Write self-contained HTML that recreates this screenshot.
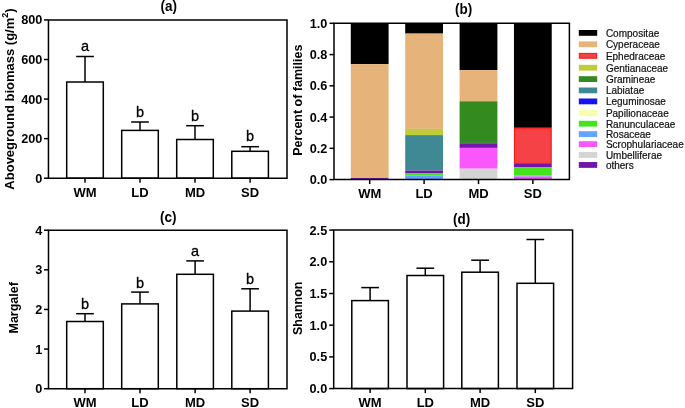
<!DOCTYPE html><html><head><meta charset="utf-8"><style>html,body{margin:0;padding:0;background:#fff;overflow:hidden}svg{display:block;will-change:transform}text{font-family:"Liberation Sans",sans-serif}</style></head><body>
<svg width="685" height="408" viewBox="0 0 685 408">
<rect width="685" height="408" fill="#fff"/>
<line x1="43.95" y1="178.20" x2="48.45" y2="178.20" stroke="#000" stroke-width="1.5"/>
<text x="42.30" y="182.70" font-size="12.7" font-weight="bold" text-anchor="end" fill="#000" >0</text>
<line x1="43.95" y1="138.64" x2="48.45" y2="138.64" stroke="#000" stroke-width="1.5"/>
<text x="42.30" y="143.14" font-size="12.7" font-weight="bold" text-anchor="end" fill="#000" >200</text>
<line x1="43.95" y1="99.07" x2="48.45" y2="99.07" stroke="#000" stroke-width="1.5"/>
<text x="42.30" y="103.57" font-size="12.7" font-weight="bold" text-anchor="end" fill="#000" >400</text>
<line x1="43.95" y1="59.51" x2="48.45" y2="59.51" stroke="#000" stroke-width="1.5"/>
<text x="42.30" y="64.01" font-size="12.7" font-weight="bold" text-anchor="end" fill="#000" >600</text>
<line x1="43.95" y1="19.95" x2="48.45" y2="19.95" stroke="#000" stroke-width="1.5"/>
<text x="42.30" y="24.45" font-size="12.7" font-weight="bold" text-anchor="end" fill="#000" >800</text>
<line x1="85.00" y1="82.00" x2="85.00" y2="56.50" stroke="#000" stroke-width="1.5"/>
<line x1="76.15" y1="56.50" x2="93.85" y2="56.50" stroke="#000" stroke-width="1.5"/>
<rect x="66.70" y="82.00" width="36.60" height="96.20" fill="#fff" stroke="#000" stroke-width="1.5"/>
<text x="85.00" y="50.60" font-size="14.5" font-weight="normal" text-anchor="middle" fill="#000" stroke="#000" stroke-width="0.3">a</text>
<line x1="140.00" y1="130.40" x2="140.00" y2="122.00" stroke="#000" stroke-width="1.5"/>
<line x1="131.15" y1="122.00" x2="148.85" y2="122.00" stroke="#000" stroke-width="1.5"/>
<rect x="121.70" y="130.40" width="36.60" height="47.80" fill="#fff" stroke="#000" stroke-width="1.5"/>
<text x="140.00" y="116.50" font-size="14.5" font-weight="normal" text-anchor="middle" fill="#000" stroke="#000" stroke-width="0.3">b</text>
<line x1="195.00" y1="139.50" x2="195.00" y2="125.70" stroke="#000" stroke-width="1.5"/>
<line x1="186.15" y1="125.70" x2="203.85" y2="125.70" stroke="#000" stroke-width="1.5"/>
<rect x="176.70" y="139.50" width="36.60" height="38.70" fill="#fff" stroke="#000" stroke-width="1.5"/>
<text x="195.00" y="120.70" font-size="14.5" font-weight="normal" text-anchor="middle" fill="#000" stroke="#000" stroke-width="0.3">b</text>
<line x1="250.10" y1="151.30" x2="250.10" y2="146.70" stroke="#000" stroke-width="1.5"/>
<line x1="241.25" y1="146.70" x2="258.95" y2="146.70" stroke="#000" stroke-width="1.5"/>
<rect x="231.80" y="151.30" width="36.60" height="26.90" fill="#fff" stroke="#000" stroke-width="1.5"/>
<text x="250.10" y="141.30" font-size="14.5" font-weight="normal" text-anchor="middle" fill="#000" stroke="#000" stroke-width="0.3">b</text>
<path d="M48.45,19.95 H287.00 V178.20 H48.45 Z" fill="none" stroke="#000" stroke-width="1.5" stroke-linejoin="miter"/>
<line x1="85.00" y1="178.20" x2="85.00" y2="182.70" stroke="#000" stroke-width="1.5"/>
<text x="85.00" y="197.00" font-size="13" font-weight="bold" text-anchor="middle" fill="#000" >WM</text>
<line x1="140.00" y1="178.20" x2="140.00" y2="182.70" stroke="#000" stroke-width="1.5"/>
<text x="140.00" y="197.00" font-size="13" font-weight="bold" text-anchor="middle" fill="#000" >LD</text>
<line x1="195.00" y1="178.20" x2="195.00" y2="182.70" stroke="#000" stroke-width="1.5"/>
<text x="195.00" y="197.00" font-size="13" font-weight="bold" text-anchor="middle" fill="#000" >MD</text>
<line x1="250.10" y1="178.20" x2="250.10" y2="182.70" stroke="#000" stroke-width="1.5"/>
<text x="250.10" y="197.00" font-size="13" font-weight="bold" text-anchor="middle" fill="#000" >SD</text>
<text transform="translate(168.75,10.60) scale(1,1.12)" font-size="13.5" font-weight="bold" text-anchor="middle">(a)</text>
<text transform="translate(13.7,99) rotate(-90)" font-size="13" font-weight="bold" text-anchor="middle">Aboveground biomass (g/m<tspan font-size="9" dy="-6">2</tspan><tspan dy="6">)</tspan></text>
<rect x="350.80" y="23.30" width="37.80" height="40.80" fill="#000000"/>
<rect x="350.80" y="64.10" width="37.80" height="113.90" fill="#e6b37b"/>
<rect x="350.80" y="178.00" width="37.80" height="1.60" fill="#7216aa"/>
<rect x="405.20" y="23.30" width="37.80" height="10.30" fill="#000000"/>
<rect x="405.20" y="33.60" width="37.80" height="95.30" fill="#e6b37b"/>
<rect x="405.20" y="128.90" width="37.80" height="6.20" fill="#c1cc3a"/>
<rect x="405.20" y="135.10" width="37.80" height="35.50" fill="#3f8994"/>
<rect x="405.20" y="170.60" width="37.80" height="2.40" fill="#7216aa"/>
<rect x="405.20" y="173.00" width="37.80" height="2.70" fill="#45e21e"/>
<rect x="405.20" y="175.70" width="37.80" height="3.90" fill="#64a5ff"/>
<rect x="459.60" y="23.30" width="37.80" height="46.80" fill="#000000"/>
<rect x="459.60" y="70.10" width="37.80" height="31.20" fill="#e6b37b"/>
<rect x="459.60" y="101.30" width="37.80" height="41.60" fill="#338a1e"/>
<rect x="459.60" y="142.90" width="37.80" height="0.70" fill="#1414f0"/>
<rect x="459.60" y="143.60" width="37.80" height="4.30" fill="#7216aa"/>
<rect x="459.60" y="147.90" width="37.80" height="20.80" fill="#f957fc"/>
<rect x="459.60" y="168.70" width="37.80" height="10.90" fill="#d4d4d4"/>
<rect x="513.95" y="23.30" width="37.80" height="104.50" fill="#000000"/>
<rect x="514.45" y="128.30" width="36.80" height="35.10" fill="#f44246" stroke="#ff1010" stroke-width="1"/>
<rect x="513.95" y="163.90" width="37.80" height="3.50" fill="#7216aa"/>
<rect x="513.95" y="167.40" width="37.80" height="8.10" fill="#45e21e"/>
<rect x="513.95" y="175.50" width="37.80" height="1.00" fill="#64a5ff"/>
<rect x="513.95" y="176.50" width="37.80" height="3.10" fill="#f957fc"/>
<line x1="329.50" y1="179.60" x2="334.00" y2="179.60" stroke="#000" stroke-width="1.5"/>
<text x="327.40" y="184.10" font-size="12.7" font-weight="bold" text-anchor="end" fill="#000" >0.0</text>
<line x1="329.50" y1="148.34" x2="334.00" y2="148.34" stroke="#000" stroke-width="1.5"/>
<text x="327.40" y="152.84" font-size="12.7" font-weight="bold" text-anchor="end" fill="#000" >0.2</text>
<line x1="329.50" y1="117.08" x2="334.00" y2="117.08" stroke="#000" stroke-width="1.5"/>
<text x="327.40" y="121.58" font-size="12.7" font-weight="bold" text-anchor="end" fill="#000" >0.4</text>
<line x1="329.50" y1="85.82" x2="334.00" y2="85.82" stroke="#000" stroke-width="1.5"/>
<text x="327.40" y="90.32" font-size="12.7" font-weight="bold" text-anchor="end" fill="#000" >0.6</text>
<line x1="329.50" y1="54.56" x2="334.00" y2="54.56" stroke="#000" stroke-width="1.5"/>
<text x="327.40" y="59.06" font-size="12.7" font-weight="bold" text-anchor="end" fill="#000" >0.8</text>
<line x1="329.50" y1="23.30" x2="334.00" y2="23.30" stroke="#000" stroke-width="1.5"/>
<text x="327.40" y="27.80" font-size="12.7" font-weight="bold" text-anchor="end" fill="#000" >1.0</text>
<path d="M334.00,23.30 H569.40 V179.60 H334.00 Z" fill="none" stroke="#000" stroke-width="1.5" stroke-linejoin="miter"/>
<line x1="369.70" y1="179.60" x2="369.70" y2="184.10" stroke="#000" stroke-width="1.5"/>
<text x="369.70" y="198.00" font-size="13" font-weight="bold" text-anchor="middle" fill="#000" >WM</text>
<line x1="424.10" y1="179.60" x2="424.10" y2="184.10" stroke="#000" stroke-width="1.5"/>
<text x="424.10" y="198.00" font-size="13" font-weight="bold" text-anchor="middle" fill="#000" >LD</text>
<line x1="478.50" y1="179.60" x2="478.50" y2="184.10" stroke="#000" stroke-width="1.5"/>
<text x="478.50" y="198.00" font-size="13" font-weight="bold" text-anchor="middle" fill="#000" >MD</text>
<line x1="532.85" y1="179.60" x2="532.85" y2="184.10" stroke="#000" stroke-width="1.5"/>
<text x="532.85" y="198.00" font-size="13" font-weight="bold" text-anchor="middle" fill="#000" >SD</text>
<text transform="translate(463.60,14.00) scale(1,1.12)" font-size="13.5" font-weight="bold" text-anchor="middle">(b)</text>
<text transform="translate(301.8,100.15) rotate(-90)" font-size="12.5" font-weight="bold" text-anchor="middle">Percent of families</text>
<rect x="578.8" y="30.00" width="18.4" height="5.8" fill="#000000"/>
<text x="605.90" y="36.70" font-size="10" font-weight="normal" text-anchor="start" fill="#111" stroke="#111" stroke-width="0.2">Compositae</text>
<rect x="578.8" y="41.40" width="18.4" height="5.8" fill="#e6b37b"/>
<text x="605.90" y="48.10" font-size="10" font-weight="normal" text-anchor="start" fill="#111" stroke="#111" stroke-width="0.2">Cyperaceae</text>
<rect x="579.3" y="53.40" width="17.4" height="4.8" fill="#f44246" stroke="#ff1010" stroke-width="1"/>
<text x="605.90" y="59.60" font-size="10" font-weight="normal" text-anchor="start" fill="#111" stroke="#111" stroke-width="0.2">Ephedraceae</text>
<rect x="578.8" y="64.80" width="18.4" height="5.8" fill="#c1cc3a"/>
<text x="605.90" y="71.50" font-size="10" font-weight="normal" text-anchor="start" fill="#111" stroke="#111" stroke-width="0.2">Gentianaceae</text>
<rect x="578.8" y="76.20" width="18.4" height="5.8" fill="#338a1e"/>
<text x="605.90" y="82.90" font-size="10" font-weight="normal" text-anchor="start" fill="#111" stroke="#111" stroke-width="0.2">Gramineae</text>
<rect x="578.8" y="87.50" width="18.4" height="5.8" fill="#3f8994"/>
<text x="605.90" y="94.20" font-size="10" font-weight="normal" text-anchor="start" fill="#111" stroke="#111" stroke-width="0.2">Labiatae</text>
<rect x="578.8" y="98.50" width="18.4" height="5.8" fill="#1414f0"/>
<text x="605.90" y="105.20" font-size="10" font-weight="normal" text-anchor="start" fill="#111" stroke="#111" stroke-width="0.2">Leguminosae</text>
<rect x="578.8" y="110.00" width="18.4" height="5.8" fill="#f6ffaa"/>
<text x="605.90" y="116.70" font-size="10" font-weight="normal" text-anchor="start" fill="#111" stroke="#111" stroke-width="0.2">Papilionaceae</text>
<rect x="578.8" y="120.80" width="18.4" height="5.8" fill="#45e21e"/>
<text x="605.90" y="127.50" font-size="10" font-weight="normal" text-anchor="start" fill="#111" stroke="#111" stroke-width="0.2">Ranunculaceae</text>
<rect x="578.8" y="131.20" width="18.4" height="5.8" fill="#64a5ff"/>
<text x="605.90" y="137.90" font-size="10" font-weight="normal" text-anchor="start" fill="#111" stroke="#111" stroke-width="0.2">Rosaceae</text>
<rect x="578.8" y="141.20" width="18.4" height="5.8" fill="#f957fc"/>
<text x="605.90" y="147.90" font-size="10" font-weight="normal" text-anchor="start" fill="#111" stroke="#111" stroke-width="0.2">Scrophulariaceae</text>
<rect x="578.8" y="152.05" width="18.4" height="5.8" fill="#d4d4d4"/>
<text x="605.90" y="158.75" font-size="10" font-weight="normal" text-anchor="start" fill="#111" stroke="#111" stroke-width="0.2">Umbelliferae</text>
<rect x="578.8" y="162.05" width="18.4" height="5.8" fill="#7216aa"/>
<text x="605.90" y="168.75" font-size="10" font-weight="normal" text-anchor="start" fill="#111" stroke="#111" stroke-width="0.2">others</text>
<line x1="44.00" y1="388.70" x2="48.50" y2="388.70" stroke="#000" stroke-width="1.5"/>
<text x="42.30" y="393.20" font-size="12.7" font-weight="bold" text-anchor="end" fill="#000" >0</text>
<line x1="44.00" y1="349.07" x2="48.50" y2="349.07" stroke="#000" stroke-width="1.5"/>
<text x="42.30" y="353.57" font-size="12.7" font-weight="bold" text-anchor="end" fill="#000" >1</text>
<line x1="44.00" y1="309.45" x2="48.50" y2="309.45" stroke="#000" stroke-width="1.5"/>
<text x="42.30" y="313.95" font-size="12.7" font-weight="bold" text-anchor="end" fill="#000" >2</text>
<line x1="44.00" y1="269.82" x2="48.50" y2="269.82" stroke="#000" stroke-width="1.5"/>
<text x="42.30" y="274.32" font-size="12.7" font-weight="bold" text-anchor="end" fill="#000" >3</text>
<line x1="44.00" y1="230.20" x2="48.50" y2="230.20" stroke="#000" stroke-width="1.5"/>
<text x="42.30" y="234.70" font-size="12.7" font-weight="bold" text-anchor="end" fill="#000" >4</text>
<line x1="85.00" y1="321.50" x2="85.00" y2="313.70" stroke="#000" stroke-width="1.5"/>
<line x1="76.15" y1="313.70" x2="93.85" y2="313.70" stroke="#000" stroke-width="1.5"/>
<rect x="66.70" y="321.50" width="36.60" height="67.20" fill="#fff" stroke="#000" stroke-width="1.5"/>
<text x="85.00" y="309.00" font-size="14.5" font-weight="normal" text-anchor="middle" fill="#000" stroke="#000" stroke-width="0.3">b</text>
<line x1="140.00" y1="303.90" x2="140.00" y2="292.10" stroke="#000" stroke-width="1.5"/>
<line x1="131.15" y1="292.10" x2="148.85" y2="292.10" stroke="#000" stroke-width="1.5"/>
<rect x="121.70" y="303.90" width="36.60" height="84.80" fill="#fff" stroke="#000" stroke-width="1.5"/>
<text x="140.00" y="287.50" font-size="14.5" font-weight="normal" text-anchor="middle" fill="#000" stroke="#000" stroke-width="0.3">b</text>
<line x1="195.10" y1="274.30" x2="195.10" y2="260.90" stroke="#000" stroke-width="1.5"/>
<line x1="186.25" y1="260.90" x2="203.95" y2="260.90" stroke="#000" stroke-width="1.5"/>
<rect x="176.80" y="274.30" width="36.60" height="114.40" fill="#fff" stroke="#000" stroke-width="1.5"/>
<text x="195.10" y="255.80" font-size="14.5" font-weight="normal" text-anchor="middle" fill="#000" stroke="#000" stroke-width="0.3">a</text>
<line x1="250.10" y1="311.10" x2="250.10" y2="288.80" stroke="#000" stroke-width="1.5"/>
<line x1="241.25" y1="288.80" x2="258.95" y2="288.80" stroke="#000" stroke-width="1.5"/>
<rect x="231.80" y="311.10" width="36.60" height="77.60" fill="#fff" stroke="#000" stroke-width="1.5"/>
<text x="250.10" y="284.10" font-size="14.5" font-weight="normal" text-anchor="middle" fill="#000" stroke="#000" stroke-width="0.3">b</text>
<path d="M48.50,230.20 H287.00 V388.70 H48.50 Z" fill="none" stroke="#000" stroke-width="1.5" stroke-linejoin="miter"/>
<line x1="85.00" y1="388.70" x2="85.00" y2="393.20" stroke="#000" stroke-width="1.5"/>
<text x="85.00" y="406.90" font-size="13" font-weight="bold" text-anchor="middle" fill="#000" >WM</text>
<line x1="140.00" y1="388.70" x2="140.00" y2="393.20" stroke="#000" stroke-width="1.5"/>
<text x="140.00" y="406.90" font-size="13" font-weight="bold" text-anchor="middle" fill="#000" >LD</text>
<line x1="195.10" y1="388.70" x2="195.10" y2="393.20" stroke="#000" stroke-width="1.5"/>
<text x="195.10" y="406.90" font-size="13" font-weight="bold" text-anchor="middle" fill="#000" >MD</text>
<line x1="250.10" y1="388.70" x2="250.10" y2="393.20" stroke="#000" stroke-width="1.5"/>
<text x="250.10" y="406.90" font-size="13" font-weight="bold" text-anchor="middle" fill="#000" >SD</text>
<text transform="translate(168.35,222.00) scale(1,1.12)" font-size="13.5" font-weight="bold" text-anchor="middle">(c)</text>
<text transform="translate(17.8,307.8) rotate(-90)" font-size="12.5" font-weight="bold" text-anchor="middle">Margalef</text>
<line x1="329.20" y1="388.60" x2="333.70" y2="388.60" stroke="#000" stroke-width="1.5"/>
<text x="327.20" y="393.10" font-size="12.7" font-weight="bold" text-anchor="end" fill="#000" >0.0</text>
<line x1="329.20" y1="356.90" x2="333.70" y2="356.90" stroke="#000" stroke-width="1.5"/>
<text x="327.20" y="361.40" font-size="12.7" font-weight="bold" text-anchor="end" fill="#000" >0.5</text>
<line x1="329.20" y1="325.20" x2="333.70" y2="325.20" stroke="#000" stroke-width="1.5"/>
<text x="327.20" y="329.70" font-size="12.7" font-weight="bold" text-anchor="end" fill="#000" >1.0</text>
<line x1="329.20" y1="293.50" x2="333.70" y2="293.50" stroke="#000" stroke-width="1.5"/>
<text x="327.20" y="298.00" font-size="12.7" font-weight="bold" text-anchor="end" fill="#000" >1.5</text>
<line x1="329.20" y1="261.80" x2="333.70" y2="261.80" stroke="#000" stroke-width="1.5"/>
<text x="327.20" y="266.30" font-size="12.7" font-weight="bold" text-anchor="end" fill="#000" >2.0</text>
<line x1="329.20" y1="230.10" x2="333.70" y2="230.10" stroke="#000" stroke-width="1.5"/>
<text x="327.20" y="234.60" font-size="12.7" font-weight="bold" text-anchor="end" fill="#000" >2.5</text>
<line x1="370.10" y1="300.60" x2="370.10" y2="287.60" stroke="#000" stroke-width="1.5"/>
<line x1="361.25" y1="287.60" x2="378.95" y2="287.60" stroke="#000" stroke-width="1.5"/>
<rect x="351.80" y="300.60" width="36.60" height="88.00" fill="#fff" stroke="#000" stroke-width="1.5"/>
<line x1="425.30" y1="275.50" x2="425.30" y2="268.20" stroke="#000" stroke-width="1.5"/>
<line x1="416.45" y1="268.20" x2="434.15" y2="268.20" stroke="#000" stroke-width="1.5"/>
<rect x="407.00" y="275.50" width="36.60" height="113.10" fill="#fff" stroke="#000" stroke-width="1.5"/>
<line x1="480.10" y1="272.20" x2="480.10" y2="260.20" stroke="#000" stroke-width="1.5"/>
<line x1="471.25" y1="260.20" x2="488.95" y2="260.20" stroke="#000" stroke-width="1.5"/>
<rect x="461.80" y="272.20" width="36.60" height="116.40" fill="#fff" stroke="#000" stroke-width="1.5"/>
<line x1="535.30" y1="283.30" x2="535.30" y2="239.50" stroke="#000" stroke-width="1.5"/>
<line x1="526.45" y1="239.50" x2="544.15" y2="239.50" stroke="#000" stroke-width="1.5"/>
<rect x="517.00" y="283.30" width="36.60" height="105.30" fill="#fff" stroke="#000" stroke-width="1.5"/>
<path d="M333.70,230.10 H572.60 V388.60 H333.70 Z" fill="none" stroke="#000" stroke-width="1.5" stroke-linejoin="miter"/>
<line x1="370.10" y1="388.60" x2="370.10" y2="393.10" stroke="#000" stroke-width="1.5"/>
<text x="370.10" y="406.90" font-size="13" font-weight="bold" text-anchor="middle" fill="#000" >WM</text>
<line x1="425.30" y1="388.60" x2="425.30" y2="393.10" stroke="#000" stroke-width="1.5"/>
<text x="425.30" y="406.90" font-size="13" font-weight="bold" text-anchor="middle" fill="#000" >LD</text>
<line x1="480.10" y1="388.60" x2="480.10" y2="393.10" stroke="#000" stroke-width="1.5"/>
<text x="480.10" y="406.90" font-size="13" font-weight="bold" text-anchor="middle" fill="#000" >MD</text>
<line x1="535.30" y1="388.60" x2="535.30" y2="393.10" stroke="#000" stroke-width="1.5"/>
<text x="535.30" y="406.90" font-size="13" font-weight="bold" text-anchor="middle" fill="#000" >SD</text>
<text transform="translate(461.70,224.00) scale(1,1.12)" font-size="13.5" font-weight="bold" text-anchor="middle">(d)</text>
<text transform="translate(301.8,308.25) rotate(-90)" font-size="12.5" font-weight="bold" text-anchor="middle">Shannon</text>
</svg></body></html>
